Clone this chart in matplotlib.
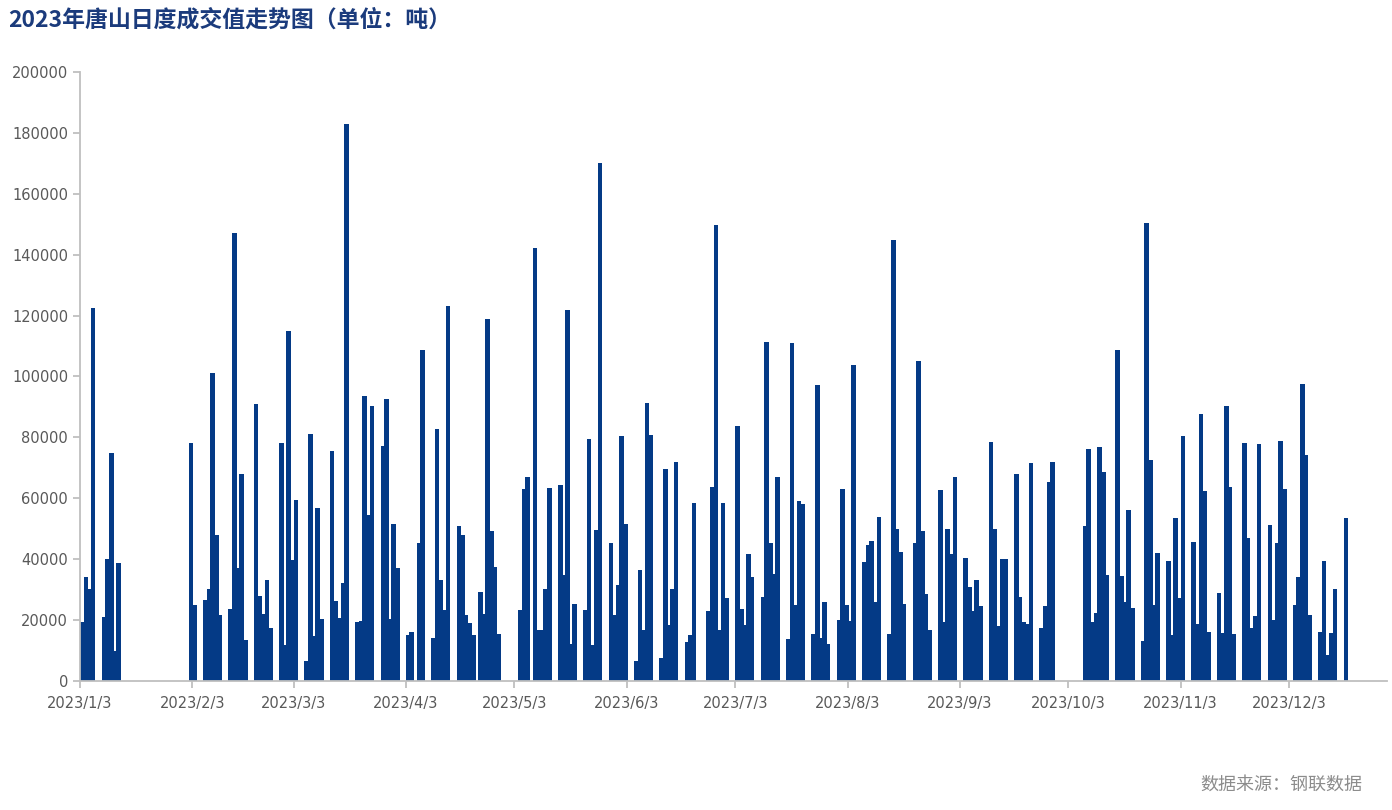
import pandas as pd
import matplotlib.pyplot as plt
from matplotlib.ticker import MultipleLocator

plt.rcParams['font.family'] = ['DejaVu Sans', 'Noto Sans CJK SC']

# daily trade volume (tons)
dates = [
    '2023-01-03', '2023-01-04', '2023-01-05', '2023-01-06', '2023-01-09', '2023-01-10',
    '2023-01-11', '2023-01-12', '2023-01-13',
    '2023-02-02', '2023-02-03', '2023-02-06', '2023-02-07', '2023-02-08', '2023-02-09',
    '2023-02-10', '2023-02-13', '2023-02-14', '2023-02-15', '2023-02-16', '2023-02-17',
    '2023-02-20', '2023-02-21', '2023-02-22', '2023-02-23', '2023-02-24', '2023-02-27',
    '2023-02-28',
    '2023-03-01', '2023-03-02', '2023-03-03', '2023-03-06', '2023-03-07', '2023-03-08',
    '2023-03-09', '2023-03-10', '2023-03-13', '2023-03-14', '2023-03-15', '2023-03-16',
    '2023-03-17', '2023-03-20', '2023-03-21', '2023-03-22', '2023-03-23', '2023-03-24',
    '2023-03-27', '2023-03-28', '2023-03-29', '2023-03-30', '2023-03-31',
    '2023-04-03', '2023-04-04', '2023-04-06', '2023-04-07', '2023-04-10', '2023-04-11',
    '2023-04-12', '2023-04-13', '2023-04-14', '2023-04-17', '2023-04-18', '2023-04-19',
    '2023-04-20', '2023-04-21', '2023-04-23', '2023-04-24', '2023-04-25', '2023-04-26',
    '2023-04-27', '2023-04-28',
    '2023-05-04', '2023-05-05', '2023-05-06', '2023-05-08', '2023-05-09', '2023-05-10',
    '2023-05-11', '2023-05-12', '2023-05-15', '2023-05-16', '2023-05-17', '2023-05-18',
    '2023-05-19', '2023-05-22', '2023-05-23', '2023-05-24', '2023-05-25', '2023-05-26',
    '2023-05-29', '2023-05-30', '2023-05-31',
    '2023-06-01', '2023-06-02', '2023-06-05', '2023-06-06', '2023-06-07', '2023-06-08',
    '2023-06-09', '2023-06-12', '2023-06-13', '2023-06-14', '2023-06-15', '2023-06-16',
    '2023-06-19', '2023-06-20', '2023-06-21', '2023-06-25', '2023-06-26', '2023-06-27',
    '2023-06-28', '2023-06-29', '2023-06-30',
    '2023-07-03', '2023-07-04', '2023-07-05', '2023-07-06', '2023-07-07', '2023-07-10',
    '2023-07-11', '2023-07-12', '2023-07-13', '2023-07-14', '2023-07-17', '2023-07-18',
    '2023-07-19', '2023-07-20', '2023-07-21', '2023-07-24', '2023-07-25', '2023-07-26',
    '2023-07-27', '2023-07-28', '2023-07-31',
    '2023-08-01', '2023-08-02', '2023-08-03', '2023-08-04', '2023-08-07', '2023-08-08',
    '2023-08-09', '2023-08-10', '2023-08-11', '2023-08-14', '2023-08-15', '2023-08-16',
    '2023-08-17', '2023-08-18', '2023-08-21', '2023-08-22', '2023-08-23', '2023-08-24',
    '2023-08-25', '2023-08-28', '2023-08-29', '2023-08-30', '2023-08-31',
    '2023-09-01', '2023-09-04', '2023-09-05', '2023-09-06', '2023-09-07', '2023-09-08',
    '2023-09-11', '2023-09-12', '2023-09-13', '2023-09-14', '2023-09-15', '2023-09-18',
    '2023-09-19', '2023-09-20', '2023-09-21', '2023-09-22', '2023-09-25', '2023-09-26',
    '2023-09-27', '2023-09-28',
    '2023-10-07', '2023-10-08', '2023-10-09', '2023-10-10', '2023-10-11', '2023-10-12',
    '2023-10-13', '2023-10-16', '2023-10-17', '2023-10-18', '2023-10-19', '2023-10-20',
    '2023-10-23', '2023-10-24', '2023-10-25', '2023-10-26', '2023-10-27', '2023-10-30',
    '2023-10-31',
    '2023-11-01', '2023-11-02', '2023-11-03', '2023-11-06', '2023-11-07', '2023-11-08',
    '2023-11-09', '2023-11-10', '2023-11-13', '2023-11-14', '2023-11-15', '2023-11-16',
    '2023-11-17', '2023-11-20', '2023-11-21', '2023-11-22', '2023-11-23', '2023-11-24',
    '2023-11-27', '2023-11-28', '2023-11-29', '2023-11-30',
    '2023-12-01', '2023-12-04', '2023-12-05', '2023-12-06', '2023-12-07', '2023-12-08',
    '2023-12-11', '2023-12-12', '2023-12-13', '2023-12-14', '2023-12-15', '2023-12-18',
]
values = [
    19300, 34100, 30100, 122500, 21100, 40100, 74800, 9800, 38600,
    78300, 24800, 26600, 30300, 101000, 48000, 21800, 23700, 147200, 37100, 68000, 13500,
    91000, 27900, 22100, 33100, 17400, 78200, 11700,
    114800, 39900, 59600, 6500, 81000, 14700, 56800, 20200, 75500, 26400, 20600, 32300,
    183000, 19300, 19600, 93600, 54400, 90400, 77300, 92600, 20200, 51500, 37100,
    15000, 16000, 45200, 108800, 14100, 82800, 33100, 23300, 123000, 50900, 47900, 21700,
    19000, 15000, 29200, 22100, 119000, 49100, 37400, 15300,
    23300, 63200, 66900, 142300, 16900, 16600, 30100, 63400, 64400, 34700, 122000, 12300,
    25200, 23300, 79400, 11700, 49700, 170200, 45200, 21800, 31500,
    80600, 51500, 6500, 36600, 16800, 91400, 80700, 7600, 69600, 18400, 30100, 72000,
    12900, 15000, 58600, 23000, 63800, 149700, 16900, 58300, 27400,
    83700, 23600, 18400, 41700, 34000, 27600, 111400, 45200, 35000, 67100, 13700, 111000,
    24800, 59100, 58000, 15300, 97200, 14100, 25800, 12300, 19900,
    63200, 24800, 19600, 103900, 39000, 44600, 46000, 25800, 54000, 15300, 144800, 49900,
    42300, 25200, 45200, 105200, 49300, 28600, 16600, 62800, 19300, 49900, 41700,
    67100, 40500, 30900, 22900, 33100, 24500, 78500, 49900, 18200, 40000, 40000, 68100,
    27600, 19400, 18700, 71500, 17500, 24500, 65300, 71800,
    50900, 76100, 19300, 22300, 76700, 68500, 34700, 108600, 34400, 25800, 56100, 23900,
    13300, 150300, 72600, 24900, 42000, 39300, 15000,
    53400, 27300, 80400, 45600, 18700, 87700, 62300, 16000, 28800, 15700, 90400, 63600,
    15300, 78300, 46900, 17400, 21500, 77900, 51300, 20000, 45400, 78800,
    63200, 24800, 34000, 97500, 74200, 21800, 16000, 39500, 8600, 15600, 30300, 53600,
]
tick_dates = ['2023-%02d-03' % m for m in range(1, 13)]
tick_labels = ['2023/%d/3' % m for m in range(1, 13)]

x = pd.to_datetime(dates)

fig = plt.figure(figsize=(13.92, 8.10), dpi=100)
ax = fig.add_axes([80 / 1392, 129 / 810, 1307 / 1392, 609 / 810])

# no antialiasing so neighbouring days merge into one solid block
ax.bar(x, values, width=1.0, align='edge', color='#043A86',
       edgecolor='#043A86', linewidth=0.5, antialiased=False)

ax.set_xlim(pd.Timestamp('2023-01-03'), pd.Timestamp('2023-12-30'))
ax.set_ylim(0, 200000)
ax.yaxis.set_major_locator(MultipleLocator(20000))
ax.set_xticks(pd.to_datetime(tick_dates))
ax.set_xticklabels(tick_labels)

for s in ['top', 'right']:
    ax.spines[s].set_visible(False)
for s in ['left', 'bottom']:
    ax.spines[s].set_color('#BFBFBF')
    ax.spines[s].set_linewidth(1.3)
ax.tick_params(axis='both', colors='#BFBFBF', labelcolor='#595959', labelsize=10.5,
               width=1.3, length=5)
ax.tick_params(axis='x', pad=6)

fig.text(8 / 1392, 1 - 20 / 810, '2023年唐山日度成交值走势图（单位：吨）',
         family=['Noto Sans CJK SC', 'DejaVu Sans'], fontsize=16.5, fontweight='bold',
         color='#1B3B7C', ha='left', va='center')
fig.text(1362 / 1392, 1 - 785 / 810, '数据来源：钢联数据',
         family=['Noto Sans CJK SC', 'DejaVu Sans'], fontsize=13, color='#8C8C8C',
         ha='right', va='center')

fig.savefig('out.png', dpi=100)
